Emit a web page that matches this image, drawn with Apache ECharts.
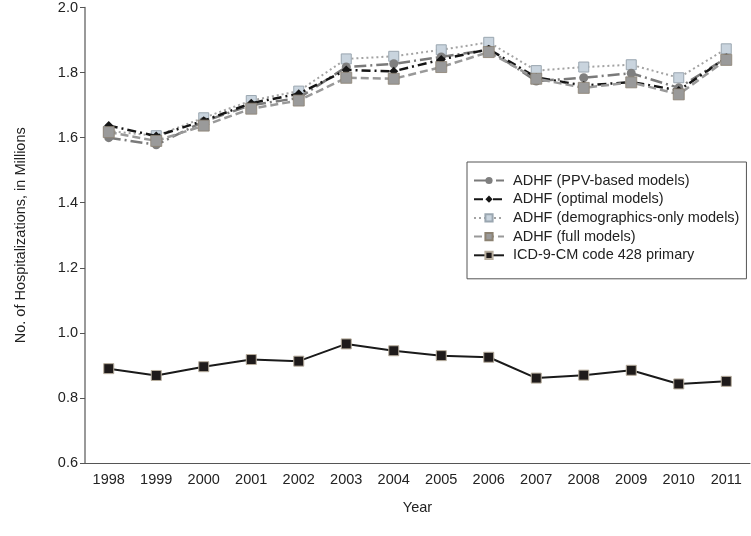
<!DOCTYPE html>
<html>
<head>
<meta charset="utf-8">
<script src="https://cdn.jsdelivr.net/npm/echarts@6/dist/echarts.min.js"></script>
<style>
  html, body { margin: 0; padding: 0; background: #fff; }
  #chart { width: 751px; height: 536px; }
</style>
</head>
<body>
<div id="chart"></div>
<script>
var years = ['1998', '1999', '2000', '2001', '2002', '2003', '2004', '2005', '2006', '2007', '2008', '2009', '2010', '2011'];
var ppvBased = [1.600, 1.578, 1.650, 1.700, 1.722, 1.817, 1.827, 1.848, 1.870, 1.774, 1.784, 1.798, 1.753, 1.845];
var optimal = [1.637, 1.605, 1.652, 1.706, 1.735, 1.808, 1.804, 1.840, 1.872, 1.785, 1.760, 1.771, 1.745, 1.845];
var demographics = [1.620, 1.606, 1.661, 1.714, 1.743, 1.842, 1.850, 1.870, 1.893, 1.806, 1.817, 1.824, 1.784, 1.873];
var fullModels = [1.617, 1.590, 1.637, 1.689, 1.714, 1.784, 1.781, 1.817, 1.863, 1.781, 1.753, 1.770, 1.733, 1.839];
var icdPrimary = [0.890, 0.869, 0.896, 0.918, 0.913, 0.966, 0.945, 0.930, 0.925, 0.861, 0.870, 0.885, 0.843, 0.851];

var font = '"Liberation Sans", Arial, sans-serif';
// plain box for the demographics marker
var starBox = 'path://M0,0L10,0L10,10L0,10Z';

var chart = echarts.init(document.getElementById('chart'));
var option = {
    animation: false,
    textStyle: {fontFamily: font},
    grid: {left: 85, right: 1, top: 7, bottom: 73, containLabel: false},
    legend: {
        orient: 'vertical',
        left: 467,
        top: 162,
        padding: [11, 7, 16, 6],
        borderColor: '#555',
        borderWidth: 1,
        itemWidth: 30,
        itemHeight: 9,
        itemGap: 3.7,
        textStyle: {fontFamily: font, fontSize: 14.5, lineHeight: 14, color: '#222', padding: [0, 0, 0, 4]},
        data: ['ADHF (PPV-based models)', 'ADHF (optimal models)', 'ADHF (demographics-only models)', 'ADHF (full models)', 'ICD-9-CM code 428 primary']
    },
    xAxis: {
        type: 'category',
        data: years,
        boundaryGap: true,
        name: 'Year',
        nameLocation: 'middle',
        nameGap: 37,
        nameTextStyle: {fontSize: 14.5, color: '#222'},
        axisLine: {lineStyle: {color: '#555', width: 1.2}},
        axisTick: {inside: true, length: 5, lineStyle: {color: '#555'}},
        axisLabel: {fontSize: 14.5, color: '#222', margin: 9}
    },
    yAxis: {
        type: 'value',
        min: 0.6,
        max: 2.0,
        interval: 0.2,
        name: 'No. of Hospitalizations, in Millions',
        nameLocation: 'middle',
        nameGap: 57,
        nameTextStyle: {fontSize: 14.5, color: '#222'},
        axisLine: {show: true, lineStyle: {color: '#777', width: 1.5}},
        axisTick: {show: true, length: 5, lineStyle: {color: '#555'}},
        axisLabel: {fontSize: 14.5, color: '#222', margin: 7, formatter: function (v) { return v.toFixed(1); }},
        splitLine: {show: false}
    },
    series: [
        {
            name: 'ADHF (PPV-based models)',
            type: 'line',
            data: ppvBased,
            symbol: 'circle',
            symbolSize: 9,
            itemStyle: {color: '#7f7f7f'},
            lineStyle: {color: '#7a7a7a', width: 2.5, type: [12, 4, 2, 4]},
            z: 3
        },
        {
            name: 'ADHF (optimal models)',
            type: 'line',
            data: optimal,
            symbol: 'diamond',
            symbolSize: 9,
            itemStyle: {color: '#151515'},
            lineStyle: {color: '#151515', width: 2.5, type: [9, 4, 2, 4]},
            z: 4
        },
        {
            name: 'ADHF (demographics-only models)',
            type: 'line',
            data: demographics,
            symbol: starBox,
            symbolSize: 10,
            itemStyle: {color: '#c9d4de', borderColor: '#9aa6b0', borderWidth: 1},
            lineStyle: {color: '#a3a3a3', width: 2, type: [2, 3]},
            z: 2
        },
        {
            name: 'ADHF (full models)',
            type: 'line',
            data: fullModels,
            symbol: 'rect',
            symbolSize: 11,
            itemStyle: {color: '#9a9a9a', borderColor: '#8c8272', borderWidth: 0.8},
            lineStyle: {color: '#999', width: 2.5, type: [8, 4]},
            z: 5
        },
        {
            name: 'ICD-9-CM code 428 primary',
            type: 'line',
            data: icdPrimary,
            symbol: 'rect',
            symbolSize: 10,
            itemStyle: {color: '#1e1a1a', borderColor: '#b8ae9e', borderWidth: 1},
            lineStyle: {color: '#1a1a1a', width: 2},
            z: 6
        }
    ]
};
chart.setOption(option);
</script>
</body>
</html>
